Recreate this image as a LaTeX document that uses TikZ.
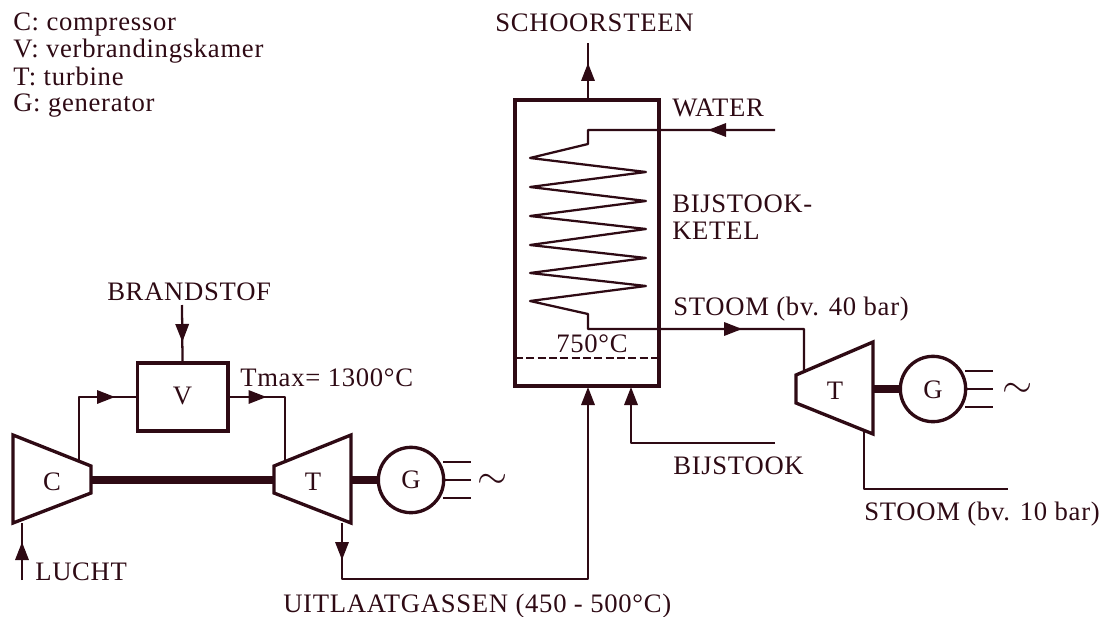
\documentclass[tikz,border=0pt]{standalone}
\usepackage{fontspec}
\setmainfont{Liberation Serif}
\usepackage{xcolor}
\usetikzlibrary{arrows.meta}
\usetikzlibrary{decorations.markings}

\definecolor{ink}{HTML}{2E0A14}

\tikzset{
  pipe/.style={draw=ink, line width=1.7pt, line join=round},
  wall/.style={draw=ink, line width=2.5pt, line join=miter},
  shaft/.style={draw=ink, line width=6pt},
  tip/.style={-{Triangle[length=13.5pt,width=10pt]}},
  headat/.style={postaction={decorate, decoration={markings,
      mark=at position #1*0.75pt with {\arrow[ink]{Triangle[length=13.5pt,width=10pt]}}}}},
  txt/.style={text=ink, inner sep=0pt, anchor=base west, font=\fontsize{20}{20}\selectfont\addfontfeature{LetterSpace=2.7}},
  sign/.style={text=ink, inner sep=0pt, anchor=base, font=\fontsize{20}{20}\selectfont},
  wave/.style={text=ink, inner sep=0pt, scale=2.9},
}

\begin{document}
\begin{tikzpicture}[x=0.75pt,y=-0.75pt]

\useasboundingbox (0,0) rectangle (1099,617);


\node[txt] (legC) at (13,31) {C: compressor};
\node[txt] (legV) at (13,58) {V: verbrandingskamer};
\node[txt] (legT) at (13,85) {T: turbine};
\node[txt] (legG) at (13,112) {G: generator};


\begin{scope}

\node[wall, minimum width=68pt, minimum height=51pt, inner sep=0pt] (burner) at (182.5,397) {};
\node[sign] (burnerV) at (182.5,404) {V};

\draw[wall] (13,435)--(91,466)--(91,493)--(13,523)--cycle;
\draw[wall] (351,435)--(274,466)--(274,493)--(351,523)--cycle;

\node[sign] (compC) at (52,490) {C};
\node[sign] (turbT) at (313,490) {T};

\node[wall, circle, minimum size=49pt, inner sep=0pt] (gen) at (411,480) {};
\node[sign] (genG) at (411,488) {G};

\coordinate (compshaft) at (92,480);
\coordinate (turbshaftL) at (273,480);
\coordinate (turbshaftR) at (352,480);

\draw[shaft] (compshaft)--(turbshaftL);
\draw[shaft] (turbshaftR)--(gen);

\coordinate (compout) at (79,461);
\coordinate (turbin) at (285,461);
\coordinate (fuelin) at (182,305);
\coordinate (airin) at (22,580);
\coordinate (compin) at (22,523);
\coordinate (turbout) at (342,523);

\draw[pipe, headat=100] (compout)|-(burner.west);
\draw[pipe, headat=37] (burner.east)-|(turbin);
\draw[pipe, headat=37] (fuelin)--(burner.north);
\draw[pipe, headat=38] (airin)--(compin);

\coordinate (ga) at (443,462);
\coordinate (gb) at (471,462);
\coordinate (gc) at (443,480);
\coordinate (gd) at (471,480);
\coordinate (ge) at (443,498);
\coordinate (gf) at (471,498);
\draw[pipe] (ga)--(gb);
\draw[pipe] (gc)--(gd);
\draw[pipe] (ge)--(gf);
\node[wave] (waveA) at (493,481) {$\sim$};

\node[txt] (fuel) at (107,300) {BRANDSTOF};
\node[txt] (tmax) at (240,386) {Tmax= 1300°C};
\node[txt] (air) at (35,580) {LUCHT};

\end{scope}


\begin{scope}

\node[wall, minimum width=108pt, minimum height=214.5pt, inner sep=0pt] (boiler) at (587,243) {};

\coordinate (dashL) at (515,358);
\coordinate (dashR) at (659,358);
\draw[pipe, dash pattern=on 6pt off 2.5pt] (dashL)--(dashR);

\coordinate (chimney) at (588,43);
\coordinate (boilertop) at (588,100);
\coordinate (waterin) at (775,130);
\coordinate (steamA) at (804,370);
\coordinate (gasin) at (588,387);
\coordinate (extrain) at (631,387);
\coordinate (extrasrc) at (775,443);
\coordinate (gasbend) at (342,579);

\draw[pipe, headat=37] (boilertop)--(chimney);

\draw[pipe, headat=67, headat=1658] (waterin)--(588,130)--++(0,14)--(530,158)--(646,172)--(530,187)--(646,201)--(530,216)--(646,229)--(530,245)--(646,258)--(530,273)--(646,286)--(530,301)--(588,314)--(588,329)--(804,329)--(steamA);

\draw[pipe, tip, headat=37] (turbout)--(gasbend)-|(gasin);
\draw[pipe, tip] (extrasrc)-|(extrain);

\node[txt] (chimneytxt) at (495,32) {SCHOORSTEEN};
\node[txt] (water) at (672,117) {WATER};
\node[txt] (ketelA) at (672,212) {BIJSTOOK-};
\node[txt] (ketelB) at (672,239) {KETEL};
\node[txt] (steam40) at (673,315) {STOOM (bv. 40 bar)};
\node[txt] (temp) at (556,352) {750°C};
\node[txt] (extra) at (673,474) {BIJSTOOK};
\node[txt] (exhaust) at (283,612) {UITLAATGASSEN (450 - 500°C)};

\end{scope}


\begin{scope}

\draw[wall] (873,342)--(796,375)--(796,403)--(873,434)--cycle;
\node[sign] (turbT2) at (835,399) {T};

\node[wall, circle, minimum size=49pt, inner sep=0pt] (gentwo) at (933,389) {};
\node[sign] (genG2) at (933,398) {G};

\coordinate (turbshaftT) at (874,389);
\draw[shaft] (turbshaftT)--(gentwo);

\coordinate (ha) at (965,371);
\coordinate (hb) at (993,371);
\coordinate (hc) at (965,389);
\coordinate (hd) at (993,389);
\coordinate (he) at (965,407);
\coordinate (hf) at (993,407);
\draw[pipe] (ha)--(hb);
\draw[pipe] (hc)--(hd);
\draw[pipe] (he)--(hf);
\node[wave] (waveB) at (1018,390) {$\sim$};

\coordinate (turbtwoout) at (864,431);
\coordinate (steamout) at (1008,489);
\draw[pipe] (turbtwoout)|-(steamout);

\node[txt] (steam10) at (864,520) {STOOM (bv. 10 bar)};

\end{scope}

\end{tikzpicture}
\end{document}
